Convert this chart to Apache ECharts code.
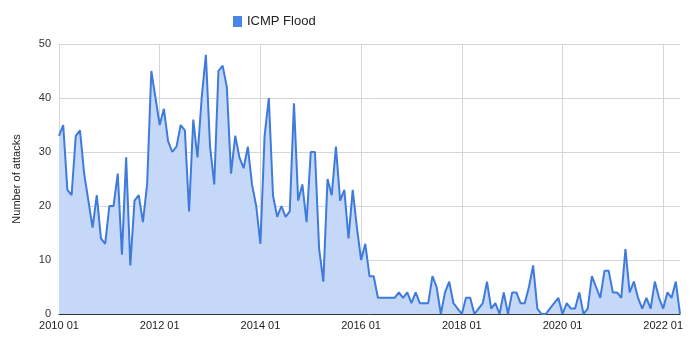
<!DOCTYPE html>
<html>
<head>
<meta charset="utf-8">
<title>ICMP Flood</title>
<script src="https://cdn.jsdelivr.net/npm/echarts@6/dist/echarts.min.js"></script>
<style>
  html, body { margin: 0; padding: 0; background: #fff; }
  #chart { width: 690px; height: 343px; }
</style>
</head>
<body>
<div id="chart"></div>
<script>
// Monthly attack counts, January 2010 through May 2022
const startYear = 2010;
const seriesName = 'ICMP Flood';
const icmpFlood = [
  33, 35, 23, 22, 33, 34, 26, 21, 16, 22, 14, 13,   // 2010
  20, 20, 26, 11, 29, 9, 21, 22, 17, 24, 45, 40,    // 2011
  35, 38, 32, 30, 31, 35, 34, 19, 36, 29, 40, 48,   // 2012
  31, 24, 45, 46, 42, 26, 33, 29, 27, 31, 24, 20,   // 2013
  13, 33, 40, 22, 18, 20, 18, 19, 39, 21, 24, 17,   // 2014
  30, 30, 12, 6, 25, 22, 31, 21, 23, 14, 23, 16,    // 2015
  10, 13, 7, 7, 3, 3, 3, 3, 3, 4, 3, 4,             // 2016
  2, 4, 2, 2, 2, 7, 5, 0, 4, 6, 2, 1,               // 2017
  0, 3, 3, 0, 1, 2, 6, 1, 2, 0, 4, 0,               // 2018
  4, 4, 2, 2, 5, 9, 1, 0, 0, 1, 2, 3,               // 2019
  0, 2, 1, 1, 4, 0, 1, 7, 5, 3, 8, 8,               // 2020
  4, 4, 3, 12, 4, 6, 3, 1, 3, 1, 6, 3,              // 2021
  1, 4, 3, 6, 0                                     // 2022
];
const yTicks = { min: 0, max: 50, interval: 10 };
const labelEvery = 24; // one x label every two years

// "YYYY MM" category for each month
const months = icmpFlood.map((_, i) => {
  const y = startYear + Math.floor(i / 12);
  const m = (i % 12) + 1;
  return y + ' ' + (m < 10 ? '0' + m : String(m));
});

const font = '"Liberation Sans", Arial, sans-serif';
const chart = echarts.init(document.getElementById('chart'));
chart.setOption({
  animation: false,
  textStyle: { fontFamily: font },
  legend: {
    data: [{ name: seriesName, icon: 'rect' }],
    left: 228,
    top: 10,
    itemWidth: 9,
    itemHeight: 11,
    itemGap: 6,
    textStyle: { fontSize: 13, color: '#222', fontFamily: font }
  },
  grid: { left: 59, right: 10, top: 44, bottom: 29, containLabel: false },
  xAxis: {
    type: 'category',
    data: months,
    boundaryGap: false,
    axisLine: { lineStyle: { color: '#333', width: 1 } },
    axisTick: { show: false },
    axisLabel: {
      interval: (i) => i % labelEvery === 0,
      color: '#222',
      fontSize: 11,
      margin: 6,
      fontFamily: font
    },
    splitLine: {
      show: true,
      interval: (i) => i % labelEvery === 0,
      lineStyle: { color: '#d6d6d6', width: 1 }
    }
  },
  yAxis: {
    type: 'value',
    min: yTicks.min,
    max: yTicks.max,
    interval: yTicks.interval,
    name: 'Number of attacks',
    nameLocation: 'middle',
    nameGap: 37,
    nameTextStyle: { fontSize: 11, color: '#222', fontFamily: font },
    axisLine: { show: false },
    axisTick: { show: false },
    axisLabel: { color: '#333', fontSize: 11, margin: 8, fontFamily: font },
    splitLine: { lineStyle: { color: '#d6d6d6', width: 1 } }
  },
  series: [{
    name: seriesName,
    type: 'line',
    data: icmpFlood,
    symbol: 'none',
    color: '#4a86e8',
    lineStyle: { color: '#3f7bdc', width: 2 },
    areaStyle: { color: '#c6d8f8', opacity: 1 }
  }]
});
</script>
</body>
</html>
